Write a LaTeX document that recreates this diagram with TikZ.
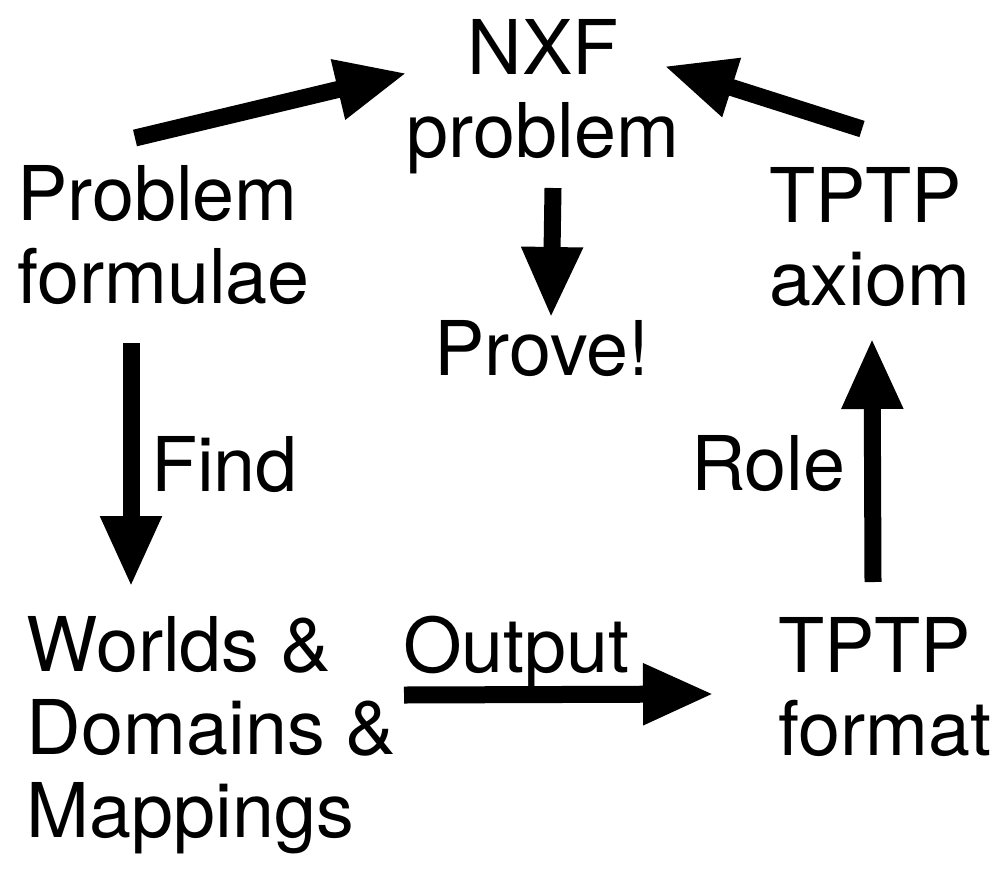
\documentclass[tikz,border=0pt]{standalone}
\usepackage{fontspec}
\setmainfont{TeX Gyre Heros}
\usetikzlibrary{arrows.meta}
\begin{document}
\begin{tikzpicture}[x=1pt,y=-1pt,
  lbl/.style={font=\fontsize{75.5}{83}\selectfont, inner sep=0pt, outer sep=0pt},
  bigarrow/.style={line width=17pt, -{Triangle[length=71pt,width=57pt]}}]
\fill[white] (0,0) rectangle (1008,875);
\useasboundingbox (0,0) rectangle (1008,875);
% nodes (multi-line nodes anchored at the baseline of their last line)
\node[lbl, align=center, anchor=base] (nxf) at (543,157) {NXF\\problem};
\node[lbl, align=left, anchor=base west] (pf) at (17,303) {Problem\\formulae};
\node[lbl, anchor=base] (prove) at (542,375) {Prove!};
\node[lbl, align=left, anchor=base west] (axiom) at (769,305) {TPTP\\axiom};
\node[lbl, align=left, anchor=base west] (wdm) at (27,837) {Worlds \&\\Domains \&\\Mappings};
\node[lbl, align=left, anchor=base west] (fmt) at (778,755) {TPTP\\format};
\node[lbl, anchor=base west] (find) at (151,491) {Find};
\node[lbl, anchor=base west] (role) at (691,490) {Role};
\node[lbl, anchor=base west] (output) at (403,672) {Output};
% connector ends
\coordinate (pf-out) at (135,138);
\coordinate (nxf-inl) at (407,73);
\coordinate (ax-out) at (862,129);
\coordinate (nxf-inr) at (664,66);
\coordinate (nxf-out) at (553,188);
\coordinate (prove-in) at (551,318);
\coordinate (pf-down) at (131,343);
\coordinate (wdm-in) at (131,587);
\coordinate (fmt-up) at (873,582);
\coordinate (ax-in) at (872,338);
\coordinate (wdm-out) at (404,695);
\coordinate (fmt-in) at (714,694);
% connectors
\draw[bigarrow] (pf-out) -- (nxf-inl);
\draw[bigarrow] (ax-out) -- (nxf-inr);
\draw[bigarrow] (nxf-out) -- (prove-in);
\draw[bigarrow] (pf-down) -- (wdm-in);
\draw[bigarrow] (fmt-up) -- (ax-in);
\draw[bigarrow] (wdm-out) -- (fmt-in);
\end{tikzpicture}
\end{document}
